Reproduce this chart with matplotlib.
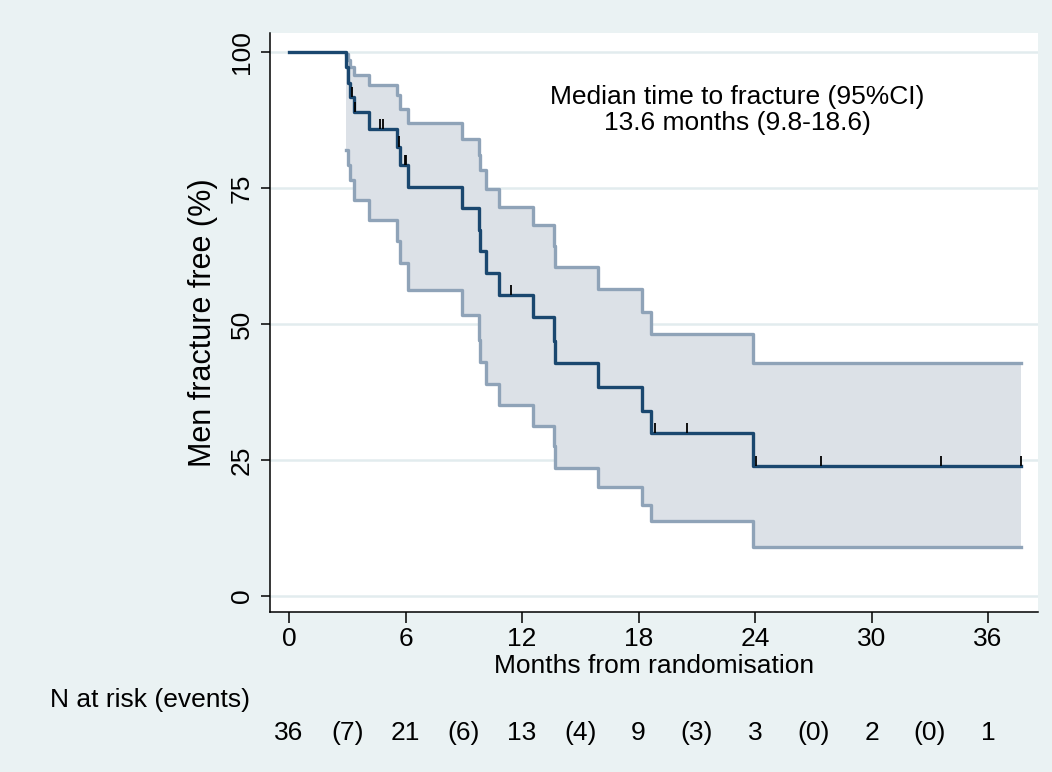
import matplotlib
matplotlib.use("Agg")
import matplotlib.pyplot as plt

plt.rcParams['font.family'] = ['Liberation Sans', 'DejaVu Sans']

# ---- data ----
event_times = [2.95, 3.05, 3.15, 3.33, 4.14, 5.54, 5.72, 6.14, 8.92, 9.80, 9.86,
               10.14, 10.83, 12.57, 13.62, 13.70, 15.90, 18.16, 18.62, 23.91]
surv = [97.2, 94.4, 91.7, 88.9, 85.8, 82.6, 79.2, 75.2, 71.3, 67.3, 63.5,
        59.3, 55.3, 51.2, 46.8, 42.8, 38.5, 34.1, 29.9, 23.9]
upper_ci = [99.6, 98.6, 97.3, 95.8, 93.9, 92.1, 89.5, 87.0, 84.0, 81.0, 78.3,
            74.9, 71.6, 68.2, 64.4, 60.4, 56.4, 52.3, 48.2, 42.9]
lower_ci = [82.0, 79.3, 76.5, 72.8, 69.1, 65.2, 61.2, 56.3, 51.6, 47.0, 43.1,
            39.0, 35.1, 31.2, 27.5, 23.5, 20.1, 16.7, 13.7, 9.0]
end_time = 37.7
censor_times = [3.22, 3.40, 4.70, 4.86, 5.68, 5.95, 6.02, 11.45, 18.85, 20.52,
                24.05, 27.38, 33.56, 37.68]
censor_surv = [91.7, 88.9, 85.8, 85.8, 82.6, 79.2, 79.2, 55.3, 29.9, 29.9,
               23.9, 23.9, 23.9, 23.9]

x_ticks = [0, 6, 12, 18, 24, 30, 36]
y_ticks = [0, 25, 50, 75, 100]
risk_times = [0, 3, 6, 9, 12, 15, 18, 21, 24, 27, 30, 33, 36]
risk_labels = ['36', '(7)', '21', '(6)', '13', '(4)', '9', '(3)', '3', '(0)',
               '2', '(0)', '1']

# ---- styling ----
bg = '#EAF2F3'
navy = '#1A476F'
ci_col = '#8FA3B8'
fill_col = '#DCE1E7'
grid_col = '#E2ECEE'

W, H = 1052, 772
fig = plt.figure(figsize=(W / 100, H / 100), dpi=100, facecolor=bg)
ax = fig.add_axes([270 / W, 1 - 612 / H, (1038 - 270) / W, (612 - 33) / H])
ax.set_facecolor('white')
ax.set_xlim(-0.98, 38.57)
ax.set_ylim(-2.94, 103.5)

ax.set_axisbelow(True)
for yv in y_ticks:
    ax.axhline(yv, color=grid_col, lw=1.8, zorder=0)

# CI band
ci_t = event_times + [end_time]
up = upper_ci + [upper_ci[-1]]
lo = lower_ci + [lower_ci[-1]]
ax.fill_between(ci_t, lo, up, step='post', color=fill_col, lw=0, zorder=1)
ax.step(ci_t, up, where='post', color=ci_col, lw=2.4, zorder=2)
ax.step(ci_t, lo, where='post', color=ci_col, lw=2.4, zorder=2)

# KM curve
t_main = [0] + event_times + [end_time]
s_main = [100] + surv + [surv[-1]]
ax.step(t_main, s_main, where='post', color=navy, lw=2.4, zorder=3)

# censor marks
ax.vlines(censor_times, censor_surv, [s + 1.9 for s in censor_surv],
          color='black', lw=1.3, zorder=4)

# axes
for side in ['top', 'right']:
    ax.spines[side].set_visible(False)
for side in ['left', 'bottom']:
    ax.spines[side].set_linewidth(1.1)
    ax.spines[side].set_color('black')

ax.set_xticks(x_ticks)
ax.set_xticklabels([str(v) for v in x_ticks])
ax.set_yticks(y_ticks)
ax.set_yticklabels([str(v) for v in y_ticks], rotation=90, va='center')
ax.tick_params(axis='x', length=8, width=1.1, pad=3, labelsize=19)
ax.tick_params(axis='y', length=6.5, width=1.1, pad=5, labelsize=19)

ax.set_xlabel('Months from randomisation', fontsize=19, labelpad=2)
ax.set_ylabel('Men fracture free (%)', fontsize=22, labelpad=9)

ax.text(23.1, 89.4, 'Median time to fracture (95%CI)\n13.6 months (9.8-18.6)',
        ha='center', va='center', fontsize=19, linespacing=1.1)

# risk table
fig.text(50 / W, 1 - 700 / H, 'N at risk (events)', ha='left', va='center',
         fontsize=19)
trans = matplotlib.transforms.blended_transform_factory(ax.transData,
                                                        fig.transFigure)
for t, lab in zip(risk_times, risk_labels):
    ax.text(t, 1 - 733 / H, lab, transform=trans, ha='center', va='center',
            fontsize=19, clip_on=False)

fig.savefig('out.png', dpi=100, facecolor=bg)
